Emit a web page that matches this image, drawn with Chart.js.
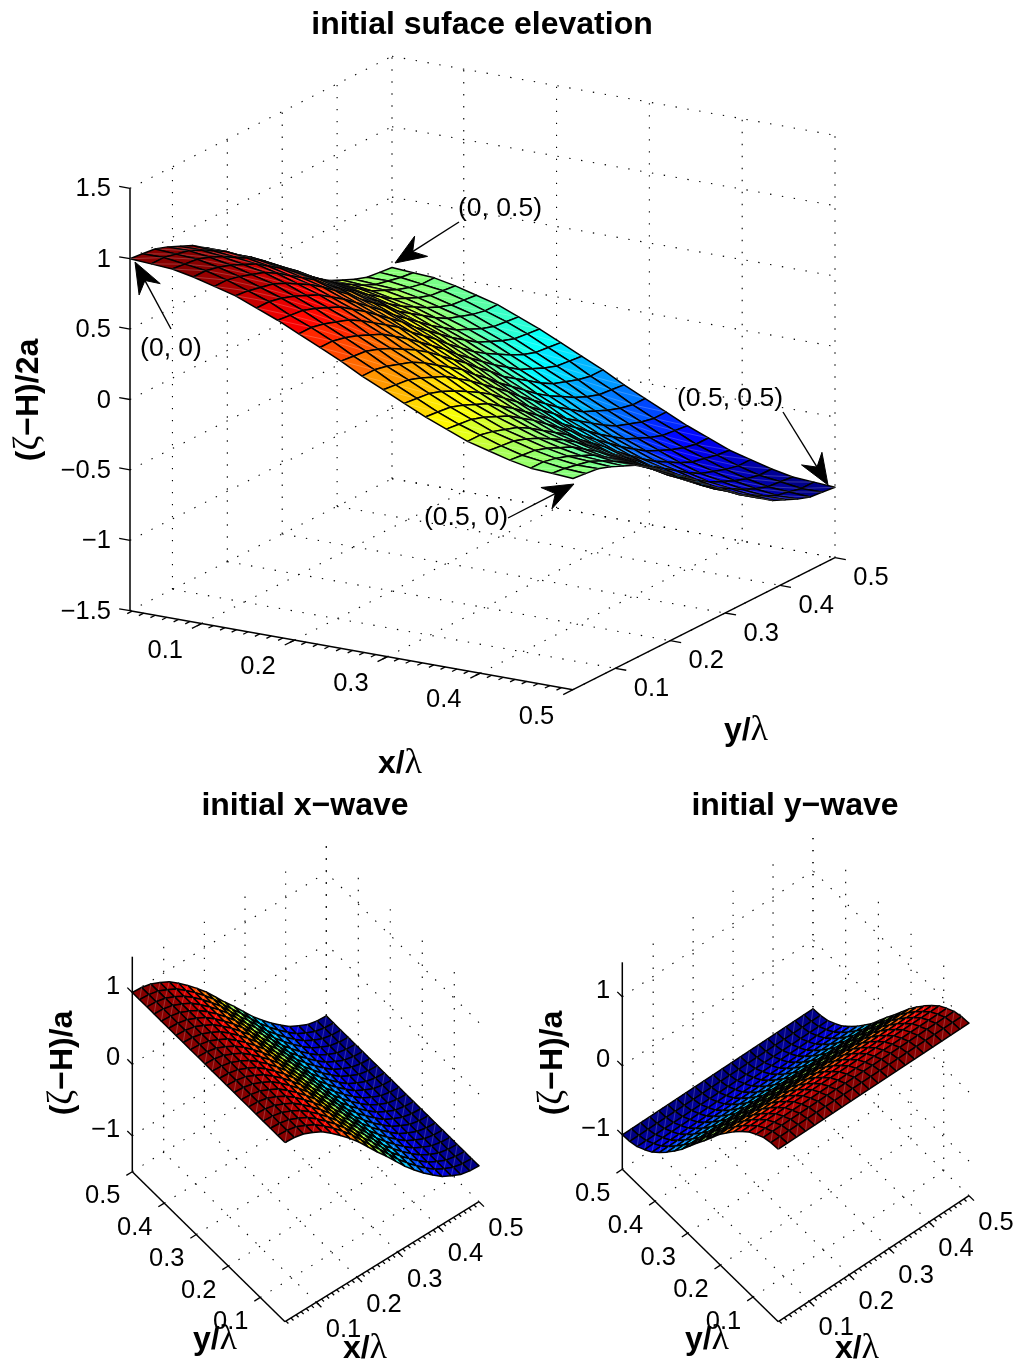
<!DOCTYPE html>
<html>
<head>
<meta charset="utf-8">
<title>initial surface elevation</title>
<script src="https://cdn.jsdelivr.net/npm/chart.js@4/dist/chart.umd.min.js"></script>
<style>
  html, body { margin: 0; padding: 0; background: #fff; }
  canvas { display: block; }
</style>
</head>
<body>
<canvas id="fig" width="1019" height="1362"></canvas>
<script>
// grid nodes of the x and y axes (x/lambda, y/lambda)
const gridNodes = [0.0227, 0.0455, 0.0682, 0.0909, 0.1136, 0.1364, 0.1591, 0.1818, 0.2045, 0.2273, 0.25,
  0.2727, 0.2955, 0.3182, 0.3409, 0.3636, 0.3864, 0.4091, 0.4318, 0.4545, 0.4773, 0.5];

// top plot, (zeta-H)/2a, one row per y node
const elevation = [
  [1.00, .99, .98, .95, .91, .87, .81, .75, .68, .61, .54, .46, .39, .32, .25, .19, .13, .09, .05, .02, .01, 0],
  [.99, .99, .97, .95, .91, .86, .81, .74, .68, .61, .53, .46, .38, .31, .24, .18, .13, .08, .04, .02, 0, -.01],
  [.98, .97, .96, .93, .89, .84, .79, .73, .66, .59, .52, .44, .37, .30, .23, .17, .11, .07, .03, 0, -.02, -.02],
  [.95, .95, .93, .90, .86, .82, .76, .70, .63, .56, .49, .41, .34, .27, .20, .14, .08, .04, 0, -.03, -.04, -.05],
  [.91, .91, .89, .86, .83, .78, .72, .66, .60, .52, .45, .38, .30, .23, .16, .10, .05, 0, -.04, -.07, -.08, -.09],
  [.87, .86, .84, .82, .78, .73, .68, .62, .55, .48, .40, .33, .26, .18, .12, .06, 0, -.05, -.08, -.11, -.13, -.13],
  [.81, .81, .79, .76, .72, .68, .62, .56, .49, .42, .35, .27, .20, .13, .06, 0, -.06, -.10, -.14, -.17, -.18, -.19],
  [.75, .74, .73, .70, .66, .62, .56, .50, .43, .36, .29, .21, .14, .07, 0, -.06, -.12, -.16, -.20, -.23, -.24, -.25],
  [.68, .68, .66, .63, .60, .55, .49, .43, .37, .29, .22, .15, .07, 0, -.07, -.13, -.18, -.23, -.27, -.30, -.31, -.32],
  [.61, .61, .59, .56, .52, .48, .42, .36, .29, .22, .15, .07, 0, -.07, -.14, -.20, -.26, -.30, -.34, -.37, -.38, -.39],
  [.54, .53, .52, .49, .45, .40, .35, .29, .22, .15, .08, 0, -.07, -.15, -.21, -.27, -.33, -.38, -.41, -.44, -.46, -.46],
  [.46, .46, .44, .41, .38, .33, .27, .21, .15, .07, 0, -.08, -.15, -.22, -.29, -.35, -.40, -.45, -.49, -.52, -.53, -.54],
  [.39, .38, .37, .34, .30, .26, .20, .14, .07, 0, -.07, -.15, -.22, -.29, -.36, -.42, -.48, -.52, -.56, -.59, -.61, -.61],
  [.32, .31, .30, .27, .23, .18, .13, .07, 0, -.07, -.15, -.22, -.29, -.37, -.43, -.49, -.55, -.60, -.63, -.66, -.68, -.68],
  [.25, .24, .23, .20, .16, .12, .06, 0, -.07, -.14, -.21, -.29, -.36, -.43, -.50, -.56, -.62, -.66, -.70, -.73, -.74, -.75],
  [.19, .18, .17, .14, .10, .06, 0, -.06, -.13, -.20, -.27, -.35, -.42, -.49, -.56, -.62, -.68, -.72, -.76, -.79, -.81, -.81],
  [.13, .13, .11, .08, .05, 0, -.06, -.12, -.18, -.26, -.33, -.40, -.48, -.55, -.62, -.68, -.73, -.78, -.82, -.84, -.86, -.87],
  [.09, .08, .07, .04, 0, -.05, -.10, -.16, -.23, -.30, -.38, -.45, -.52, -.60, -.66, -.72, -.78, -.83, -.86, -.89, -.91, -.91],
  [.05, .04, .03, 0, -.04, -.08, -.14, -.20, -.27, -.34, -.41, -.49, -.56, -.63, -.70, -.76, -.82, -.86, -.90, -.93, -.95, -.95],
  [.02, .02, 0, -.03, -.07, -.11, -.17, -.23, -.30, -.37, -.44, -.52, -.59, -.66, -.73, -.79, -.84, -.89, -.93, -.96, -.97, -.98],
  [.01, 0, -.02, -.04, -.08, -.13, -.18, -.24, -.31, -.38, -.46, -.53, -.61, -.68, -.74, -.81, -.86, -.91, -.95, -.97, -.99, -.99],
  [0, -.01, -.02, -.05, -.09, -.13, -.19, -.25, -.32, -.39, -.46, -.54, -.61, -.68, -.75, -.81, -.87, -.91, -.95, -.98, -.99, -1]
];

// bottom plots, (zeta-H)/a: the x-wave only changes along x, the y-wave only along y
const xWaveProfile = [1, .99, .96, .90, .83, .73, .62, .50, .37, .22, .07, -.07, -.22, -.37, -.50, -.62, -.73, -.83, -.90, -.96, -.99, -1];
const yWaveProfile = [1, .99, .96, .90, .83, .73, .62, .50, .37, .22, .07, -.07, -.22, -.37, -.50, -.62, -.73, -.83, -.90, -.96, -.99, -1];

const xyTicks = [0.1, 0.2, 0.3, 0.4, 0.5];
const xyTickLabels = ['0.1', '0.2', '0.3', '0.4', '0.5'];
const mainZTicks = [-1.5, -1, -0.5, 0, 0.5, 1, 1.5];
const mainZLabels = ['−1.5', '−1', '−0.5', '0', '0.5', '1', '1.5'];
const waveZTicks = [-1, 0, 1];
const waveZLabels = ['−1', '0', '1'];

const annotationTexts = ['(0, 0)', '(0, 0.5)', '(0.5, 0)', '(0.5, 0.5)'];

const XMIN = gridNodes[0], XMAX = gridNodes[gridNodes.length - 1];
const ZMIN = -1.5, ZMAX = 1.5;
const SANS = '"Liberation Sans", Arial, sans-serif';
const SERIF = '"Liberation Serif", serif';

// affine view of each axes box: corner pixel of (xmin, ymin, zmin) and the span of each axis
const panels = [
  {
    ox: 130, oy: 610.7, xv: [443, 79], yv: [262, -132], zv: [0, -422.4],
    near: [1, -1], wallX: XMIN, wallY: XMAX, yAxisX: XMAX, zAxisAt: [XMIN, XMIN],
    zTickDir: [-443, -79], xTickDir: [-262, 132], yTickDir: [443, 79], major: 11,
    xLab: [-36.5, 25], yLab: [36, 18.5], zLab: [-19, 0],
    zTicks: mainZTicks, zLabels: mainZLabels,
    height: (i, j) => elevation[i][j],
    title: 'initial suface elevation', titlePos: [482, 23],
    xName: [400, 762], yName: [746, 729], zName: [29, 400], zText: '−H)/2a'
  },
  {
    ox: 285, oy: 1321.7, xv: [194, -120], yv: [-152.7, -150], zv: [0, -215],
    near: [-1, -1], wallX: XMAX, wallY: XMAX, yAxisX: XMIN, zAxisAt: [XMIN, XMAX],
    zTickDir: [-152.7, -150], xTickDir: [152.7, 150], yTickDir: [-194, 120], major: 7,
    xLab: [27, 25.5], yLab: [-29.5, 22.5], zLab: [-12, -7],
    zTicks: waveZTicks, zLabels: waveZLabels,
    height: (i, j) => xWaveProfile[j],
    title: 'initial x−wave', titlePos: [305, 804],
    xName: [365, 1347], yName: [215, 1338], zName: [63, 1063], zText: '−H)/a'
  },
  {
    ox: 778.3, oy: 1321.7, xv: [190.7, -126], yv: [-156, -152.4], zv: [0, -207],
    near: [-1, -1], wallX: XMAX, wallY: XMAX, yAxisX: XMIN, zAxisAt: [XMIN, XMAX],
    zTickDir: [-156, -152.4], xTickDir: [156, 152.4], yTickDir: [-190.7, 126], major: 7,
    xLab: [27, 25], yLab: [-29.5, 23], zLab: [-12, -7],
    zTicks: waveZTicks, zLabels: waveZLabels,
    height: (i, j) => yWaveProfile[i],
    title: 'initial y−wave', titlePos: [795, 804],
    xName: [857, 1347], yName: [707, 1338], zName: [553, 1063], zText: '−H)/a'
  }
];

// where the arrows of the top plot start and end, and where their text sits
const arrows = [
  { tail: [171, 329], tip: [135, 262], label: [171, 347] },
  { tail: [459, 222], tip: [395, 263], label: [500, 207] },
  { tail: [508, 518], tip: [574, 484], label: [466, 516] },
  { tail: [783, 412], tip: [828, 485], label: [730, 397] }
];

function project(p, x, y, z) {
  const fx = (x - XMIN) / (XMAX - XMIN);
  const fy = (y - XMIN) / (XMAX - XMIN);
  const fz = (z - ZMIN) / (ZMAX - ZMIN);
  return {
    x: p.ox + fx * p.xv[0] + fy * p.yv[0] + fz * p.zv[0],
    y: p.oy + fx * p.xv[1] + fy * p.yv[1] + fz * p.zv[1]
  };
}

// MATLAB jet with 64 levels over -1..1
function jet(z) {
  const idx = Math.min(63, Math.floor((z + 1) / 2 * 64));
  const v = (idx + 0.5) / 64;
  const c = t => Math.round(255 * Math.max(0, Math.min(1, t)));
  return `rgb(${c(Math.min(4 * v - 1.5, 4.5 - 4 * v))},${c(Math.min(4 * v - 0.5, 3.5 - 4 * v))},${c(Math.min(4 * v + 0.5, 2.5 - 4 * v))})`;
}

// a non-empty dash keeps Chart.js off its column-merging fast path
const SOLID = [100000, 1];

function lineSet(points, order, extra) {
  return Object.assign({
    data: points, showLine: true, fill: false, pointRadius: 0, pointHoverRadius: 0, tension: 0,
    borderColor: '#000', borderWidth: 1, borderDash: SOLID, borderJoinStyle: 'round', clip: false, order
  }, extra || {});
}

function unit(v, len) {
  const n = Math.hypot(v[0], v[1]);
  return [v[0] / n * len, v[1] / n * len];
}

function gridSets(p) {
  const sets = [];
  const dots = { borderDash: [1.4, 10.6], borderWidth: 1.1, borderColor: '#000' };
  const add = (a, b) => sets.push(lineSet([project(p, ...a), project(p, ...b)], 1000, dots));
  xyTicks.forEach(t => {
    add([t, XMIN, ZMIN], [t, XMAX, ZMIN]);
    add([t, p.wallY, ZMIN], [t, p.wallY, ZMAX]);
    add([XMIN, t, ZMIN], [XMAX, t, ZMIN]);
    add([p.wallX, t, ZMIN], [p.wallX, t, ZMAX]);
  });
  p.zTicks.forEach(z => {
    add([XMIN, p.wallY, z], [XMAX, p.wallY, z]);
    add([p.wallX, XMIN, z], [p.wallX, XMAX, z]);
  });
  return sets;
}

function axisSets(p) {
  const sets = [];
  const solid = { borderWidth: 1.5 };
  const tick = (from, dir, len) => {
    const d = unit(dir, len);
    sets.push(lineSet([from, { x: from.x + d[0], y: from.y + d[1] }], 900, { borderWidth: 1.3 }));
  };
  sets.push(lineSet([project(p, XMIN, XMIN, ZMIN), project(p, XMAX, XMIN, ZMIN)], 900, solid));
  sets.push(lineSet([project(p, p.yAxisX, XMIN, ZMIN), project(p, p.yAxisX, XMAX, ZMIN)], 900, solid));
  sets.push(lineSet([project(p, p.zAxisAt[0], p.zAxisAt[1], ZMIN), project(p, p.zAxisAt[0], p.zAxisAt[1], ZMAX)], 900, solid));
  xyTicks.forEach(t => {
    tick(project(p, t, XMIN, ZMIN), p.xTickDir, p.major);
    tick(project(p, p.yAxisX, t, ZMIN), p.yTickDir, p.major);
  });
  // the x axes carry minor ticks, eight to a decade step
  for (let t = 0.025; t < 0.5; t += 0.0125) {
    tick(project(p, t, XMIN, ZMIN), p.xTickDir, p.major / 2);
  }
  p.zTicks.forEach(z => tick(project(p, p.zAxisAt[0], p.zAxisAt[1], z), p.zTickDir, p.major));
  return sets;
}

// faceted surface, far cells get a high order so that they are painted first
function surfaceSets(p) {
  const sets = [];
  const n = gridNodes.length;
  for (let i = 0; i < n - 1; i++) {
    for (let j = 0; j < n - 1; j++) {
      const pt = (a, b) => project(p, gridNodes[b], gridNodes[a], p.height(a, b));
      const c1 = pt(i, j), c2 = pt(i, j + 1), c3 = pt(i + 1, j + 1), c4 = pt(i + 1, j);
      const order = 100 - (p.near[0] * j + p.near[1] * i);
      sets.push(lineSet([c1, c2, c3, c4, c1], order, { fill: 'shape', backgroundColor: jet(p.height(i, j)), borderWidth: 1.5 }));
      // the faint seam of the two triangles in each facet
      sets.push(lineSet([c1, c3], order - 0.5, { borderColor: 'rgba(255,255,255,0.3)', borderWidth: 0.7 }));
    }
  }
  return sets;
}

function arrowSets() {
  const sets = [];
  arrows.forEach(a => {
    const tip = { x: a.tip[0], y: a.tip[1] }, tail = { x: a.tail[0], y: a.tail[1] };
    const d = unit([a.tail[0] - a.tip[0], a.tail[1] - a.tip[1]], 1);
    const at = (along, side) => ({ x: tip.x + d[0] * along - d[1] * side, y: tip.y + d[1] * along + d[0] * side });
    sets.push(lineSet([tail, at(20, 0)], -100, { borderWidth: 1.4 }));
    sets.push(lineSet([tip, at(31, 12), at(21, 0), at(31, -12), tip], -101, { fill: 'shape', backgroundColor: '#000' }));
  });
  return sets;
}

function richText(ctx, segs, cx, cy, angle) {
  let total = 0;
  segs.forEach(s => { ctx.font = s.font; total += ctx.measureText(s.text).width; });
  ctx.save();
  ctx.translate(cx, cy);
  ctx.rotate(angle || 0);
  ctx.textAlign = 'left';
  ctx.textBaseline = 'middle';
  let at = -total / 2;
  segs.forEach(s => {
    ctx.font = s.font;
    ctx.fillText(s.text, at, 0);
    at += ctx.measureText(s.text).width;
  });
  ctx.restore();
}

// ticks labels, titles and notes, placed through the chart scales
const textPlugin = {
  id: 'figureText',
  afterDraw(chart) {
    const { ctx, scales } = chart;
    const px = (x, y) => [scales.x.getPixelForValue(x), scales.y.getPixelForValue(y)];
    const BOLD = `bold 32px ${SANS}`, SYM = `36px ${SERIF}`, TICK = `25.5px ${SANS}`;
    ctx.save();
    ctx.fillStyle = '#000';
    const put = (text, x, y, align) => {
      const [a, b] = px(x, y + 2);
      ctx.textAlign = align || 'center';
      ctx.textBaseline = 'middle';
      ctx.fillText(text, a, b);
    };
    panels.forEach(p => {
      ctx.font = TICK;
      xyTicks.forEach((t, k) => {
        const a = project(p, t, XMIN, ZMIN);
        put(xyTickLabels[k], a.x + p.xLab[0], a.y + p.xLab[1]);
        const b = project(p, p.yAxisX, t, ZMIN);
        put(xyTickLabels[k], b.x + p.yLab[0], b.y + p.yLab[1]);
      });
      p.zTicks.forEach((z, k) => {
        const a = project(p, p.zAxisAt[0], p.zAxisAt[1], z);
        put(p.zLabels[k], a.x + p.zLab[0], a.y + p.zLab[1] - 1, 'right');
      });
      ctx.font = BOLD;
      put(p.title, p.titlePos[0], p.titlePos[1]);
      const xn = px(p.xName[0], p.xName[1] + 2), yn = px(p.yName[0], p.yName[1] + 2), zn = px(p.zName[0], p.zName[1]);
      richText(ctx, [{ text: 'x/', font: BOLD }, { text: 'λ', font: SYM }], xn[0], xn[1]);
      richText(ctx, [{ text: 'y/', font: BOLD }, { text: 'λ', font: SYM }], yn[0], yn[1]);
      richText(ctx, [{ text: '(', font: BOLD }, { text: 'ζ', font: SYM }, { text: p.zText, font: BOLD }], zn[0], zn[1], -Math.PI / 2);
    });
    ctx.font = `26.5px ${SANS}`;
    arrows.forEach((a, k) => put(annotationTexts[k], a.label[0], a.label[1]));
    ctx.restore();
  }
};

const datasets = [arrowSets()];
panels.forEach(p => datasets.push(gridSets(p), axisSets(p), surfaceSets(p)));

new Chart(document.getElementById('fig'), {
  type: 'scatter',
  data: { datasets: datasets.flat() },
  options: {
    responsive: false,
    animation: false,
    events: [],
    layout: { padding: 0 },
    plugins: { legend: { display: false }, tooltip: { enabled: false } },
    scales: {
      x: { type: 'linear', display: false, min: 0, max: 1019 },
      y: { type: 'linear', display: false, min: 0, max: 1362, reverse: true }
    }
  },
  plugins: [textPlugin]
});
</script>
</body>
</html>
